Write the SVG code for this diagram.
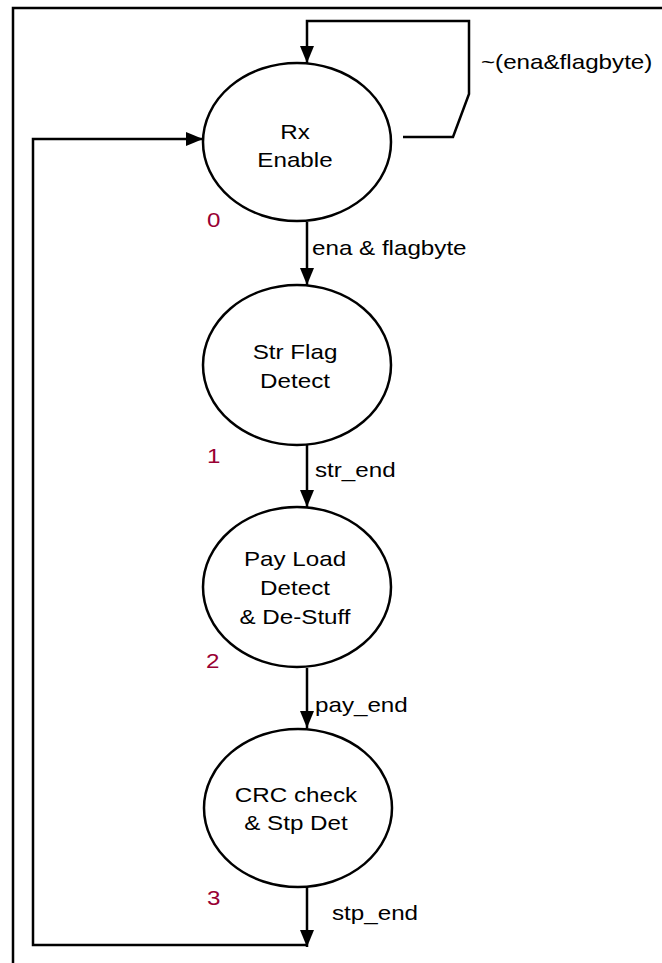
<svg xmlns="http://www.w3.org/2000/svg" width="662" height="963" viewBox="0 0 662 963">
<style>
.st{fill:#fff;stroke:#000;stroke-width:2.5}
.ln{fill:none;stroke:#000;stroke-width:2.5}
.t{font-family:"Liberation Sans",Arial,sans-serif;font-size:20.5px;fill:#000}
.c{text-anchor:middle}
.n{font-family:"Liberation Sans",Arial,sans-serif;font-size:20.5px;fill:#990033}
</style>
<defs>
<marker id="ah" markerUnits="userSpaceOnUse" markerWidth="17" markerHeight="14" refX="17" refY="7" orient="auto">
<path d="M0,0 L17,7 L0,14 z" fill="#000"/>
</marker>
</defs>
<rect width="662" height="963" fill="#fff"/>
<g id="frame">
<polyline class="ln" points="13,963 13,8 662,8"/>
</g>
<g id="connectors">
<polyline class="ln" points="403,137 453,137 469,94 469,21 307,21 307,63" marker-end="url(#ah)"/>
<line class="ln" x1="307" y1="222" x2="307" y2="285" marker-end="url(#ah)"/>
<line class="ln" x1="307" y1="445" x2="307" y2="507" marker-end="url(#ah)"/>
<line class="ln" x1="307" y1="668" x2="307" y2="728" marker-end="url(#ah)"/>
<line class="ln" x1="307" y1="887" x2="307" y2="947" marker-end="url(#ah)"/>
<polyline class="ln" points="307,945 33,945 33,139 203,139" marker-end="url(#ah)"/>
<text class="t" transform="translate(481,69) scale(1.18,1)">~(ena&amp;flagbyte)</text>
<text class="t" transform="translate(312,255) scale(1.18,1)">ena &amp; flagbyte</text>
<text class="t" transform="translate(315,477) scale(1.18,1)">str_end</text>
<text class="t" transform="translate(315,712) scale(1.18,1)">pay_end</text>
<text class="t" transform="translate(332,920) scale(1.18,1)">stp_end</text>
</g>
<g id="s0">
<ellipse class="st" cx="297" cy="142" rx="94" ry="79"/>
<text class="t c" transform="translate(295,139) scale(1.18,1)">Rx</text>
<text class="t c" transform="translate(295,167) scale(1.18,1)">Enable</text>
<text class="n" transform="translate(207,227) scale(1.18,1)">0</text>
</g>
<g id="s1">
<ellipse class="st" cx="297" cy="365" rx="94" ry="80"/>
<text class="t c" transform="translate(295,359) scale(1.18,1)">Str Flag</text>
<text class="t c" transform="translate(295,388) scale(1.18,1)">Detect</text>
<text class="n" transform="translate(207,463) scale(1.18,1)">1</text>
</g>
<g id="s2">
<ellipse class="st" cx="297" cy="587" rx="94" ry="80"/>
<text class="t c" transform="translate(295,566) scale(1.18,1)">Pay Load</text>
<text class="t c" transform="translate(295,595) scale(1.18,1)">Detect</text>
<text class="t c" transform="translate(295,624) scale(1.18,1)">&amp; De-Stuff</text>
<text class="n" transform="translate(206,668) scale(1.18,1)">2</text>
</g>
<g id="s3">
<ellipse class="st" cx="298" cy="808" rx="94" ry="79"/>
<text class="t c" transform="translate(296,802) scale(1.18,1)">CRC check</text>
<text class="t c" transform="translate(296,830) scale(1.18,1)">&amp; Stp Det</text>
<text class="n" transform="translate(207,905) scale(1.18,1)">3</text>
</g>
</svg>
